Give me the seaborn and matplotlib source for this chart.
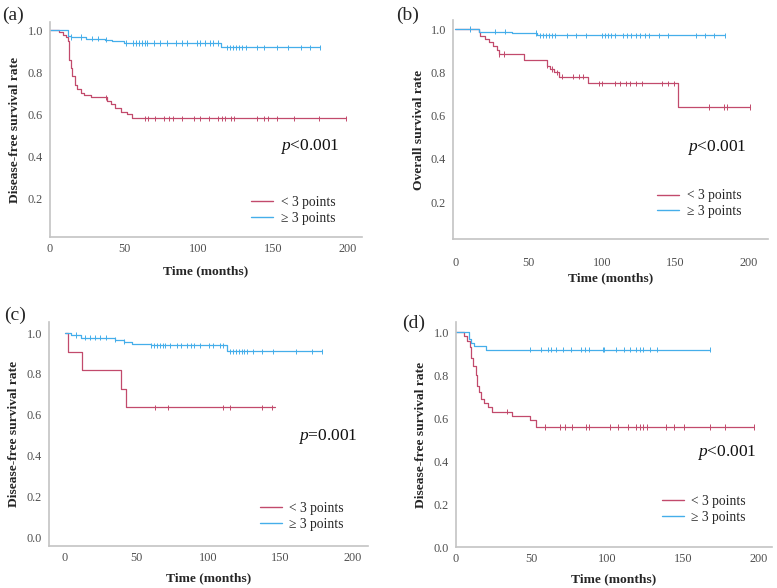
import numpy as np
import pandas as pd
import matplotlib
matplotlib.use("Agg")
import matplotlib.pyplot as plt
import seaborn as sns

sns.set_style("white")
plt.rcParams["font.family"] = ["Liberation Serif", "DejaVu Serif"]
plt.rcParams["mathtext.fontset"] = "custom"
plt.rcParams["mathtext.it"] = "Liberation Serif:italic"
plt.rcParams["mathtext.rm"] = "Liberation Serif"

GROUPS = ["< 3 points", "≥ 3 points"]
COLORS = ["#C24A6C", "#45AEEA"]

# ---------------- panel (a) : disease-free survival ----------------
a_low_t = [0, 6, 9, 11, 12, 13, 14, 15, 16.5, 18.5, 21, 23, 27.5, 38.5, 41, 44, 47.5, 52, 55.5]
a_low_s = [1.0, 0.99, 0.98, 0.97, 0.95, 0.86, 0.82, 0.78, 0.74, 0.72, 0.70, 0.69, 0.68, 0.665, 0.65, 0.63, 0.61, 0.60, 0.58]
a_low_end = 199
a_low_cens = [37.6, 64, 66, 71, 77, 80, 83, 89, 97, 101, 107, 113, 116, 118, 122, 124, 139, 144, 147, 153, 164, 181, 199]
a_high_t = [0, 12, 14, 24, 37, 42, 50, 115]
a_high_s = [1.0, 0.975, 0.968, 0.96, 0.955, 0.948, 0.94, 0.92]
a_high_end = 182
a_high_cens = [14, 21, 28, 32, 38, 51, 56, 58, 60, 62, 64, 65, 70, 74, 79, 85, 89, 92, 99, 101, 104, 108, 110, 113,
               119, 121, 123, 125, 127, 129, 132, 139, 144, 153, 160, 169, 175, 182]
a_p = "<0.001"
a_ylabel = "Disease-free survival rate"

# ---------------- panel (b) : overall survival ----------------
b_low_t = [0, 16, 17, 20.5, 22.7, 26, 28.4, 29.5, 46.6, 62.5, 64.8, 67, 70.5, 90.5, 152]
b_low_s = [1.0, 0.985, 0.97, 0.955, 0.94, 0.92, 0.905, 0.885, 0.858, 0.83, 0.815, 0.80, 0.78, 0.75, 0.64]
b_low_end = 201
b_low_cens = [30, 33, 62.5, 66, 69, 73, 80, 84, 87, 98, 100, 109, 112, 116, 119, 123, 127, 141, 145, 149, 173, 183, 185, 201]
b_high_t = [0, 16, 38.6, 55.7]
b_high_s = [1.0, 0.988, 0.982, 0.971]
b_high_end = 184
b_high_cens = [10, 27, 34, 55, 58, 60, 62, 64, 66, 68, 76, 82, 89, 100, 102, 104, 106, 109, 114, 117, 120, 123, 126,
               129, 132, 139, 145, 164, 170, 176, 184]
b_p = "<0.001"
b_ylabel = "Overall survival rate"

# ---------------- panel (c) : disease-free survival ----------------
c_low_t = [0, 2.3, 12.3, 39, 42.5]
c_low_s = [1.0, 0.909, 0.818, 0.727, 0.636]
c_low_end = 146
c_low_cens = [63, 72, 110, 115, 137, 144]
c_high_t = [0, 4.6, 11.6, 35, 41, 46.5, 60, 113]
c_high_s = [1.0, 0.99, 0.977, 0.967, 0.957, 0.947, 0.94, 0.91]
c_high_end = 179
c_high_cens = [8, 14, 17.5, 21, 24.4, 29, 35, 41, 60, 62, 64, 66, 68, 70, 73, 78, 81, 85, 88, 90, 94, 100, 103, 108,
               110, 115, 117, 119, 121, 123, 125, 127, 131, 137, 145, 161, 172, 179]
c_p = "=0.001"
c_ylabel = "Disease-free survival rate"

# ---------------- panel (d) : disease-free survival ----------------
d_low_t = [0, 5.5, 7, 9, 10, 11, 13, 13.7, 15, 16.6, 18.8, 21, 24, 37, 48.7, 52.6]
d_low_s = [1.0, 0.98, 0.96, 0.93, 0.88, 0.84, 0.80, 0.75, 0.72, 0.69, 0.67, 0.65, 0.63, 0.61, 0.59, 0.558]
d_low_end = 197
d_low_cens = [34, 58.6, 68.6, 72, 77, 86, 88, 102, 107, 114, 119, 122, 124, 126, 139, 144, 151, 168, 178, 197]
d_high_t = [0, 8.4, 10, 12, 20]
d_high_s = [1.0, 0.97, 0.95, 0.935, 0.918]
d_high_end = 168
d_high_cens = [49, 56, 61, 63, 66, 71, 76, 83, 85, 88, 97, 98, 106, 111, 115, 119, 122, 124, 128, 133, 168]
d_p = "<0.001"
d_ylabel = "Disease-free survival rate"

xticks = [0, 50, 100, 150, 200]
xlabel = "Time (months)"


def step_frame(t, s, end, group):
    tt = list(t) + [end]
    ss = list(s) + [s[-1]]
    return pd.DataFrame({"time": tt, "surv": ss, "group": group})


def cens_frame(t, s, cens, group):
    idx = np.searchsorted(np.asarray(t), np.asarray(cens), side="right") - 1
    return pd.DataFrame({"time": cens, "surv": np.asarray(s)[idx], "group": group})


fig = plt.figure(figsize=(7.77, 5.88), dpi=100)
W, H = 777, 588


def px_axes(left, right, top, bottom):
    return fig.add_axes([left / W, 1 - bottom / H, (right - left) / W, (bottom - top) / H])


panels = [
    dict(rect=(50, 362, 22, 237), xlim=(0, 210), ylim=(0.014, 1.04), yticks=[0.2, 0.4, 0.6, 0.8, 1.0],
         low=(a_low_t, a_low_s, a_low_end, a_low_cens), high=(a_high_t, a_high_s, a_high_end, a_high_cens),
         p=a_p, ylabel=a_ylabel, letter="(a)", lpos=(13, 15), leg=(0.645, 0.19), ppos=(0.737, 0.419),
         xpad=4, ylpad=5, xlpad=8),
    dict(rect=(453, 768, 20, 239), xlim=(-1.5, 213), ylim=(0.029, 1.042), yticks=[0.2, 0.4, 0.6, 0.8, 1.0],
         low=(b_low_t, b_low_s, b_low_end, b_low_cens), high=(b_high_t, b_high_s, b_high_end, b_high_cens),
         p=b_p, ylabel=b_ylabel, letter="(b)", lpos=(408, 15), leg=(0.649, 0.227), ppos=(0.743, 0.416),
         xpad=13, ylpad=4, xlpad=2),
    dict(rect=(49, 368, 322, 546), xlim=(-11, 211), ylim=(-0.044, 1.054), yticks=[0.0, 0.2, 0.4, 0.6, 0.8, 1.0],
         low=(c_low_t, c_low_s, c_low_end, c_low_cens), high=(c_high_t, c_high_s, c_high_end, c_high_cens),
         p=c_p, ylabel=c_ylabel, letter="(c)", lpos=(15, 315), leg=(0.661, 0.197), ppos=(0.78, 0.487),
         xpad=4, ylpad=5, xlpad=6),
    dict(rect=(456, 772, 322, 547), xlim=(0, 209), ylim=(0, 1.047), yticks=[0.0, 0.2, 0.4, 0.6, 0.8, 1.0],
         low=(d_low_t, d_low_s, d_low_end, d_low_cens), high=(d_high_t, d_high_s, d_high_end, d_high_cens),
         p=d_p, ylabel=d_ylabel, letter="(d)", lpos=(414, 323), leg=(0.652, 0.232), ppos=(0.763, 0.422),
         xpad=4, ylpad=5, xlpad=6),
]

for P in panels:
    ax = px_axes(*P["rect"])
    lt, ls, le, lc = P["low"]
    ht, hs, he, hc = P["high"]
    lines = pd.concat([step_frame(lt, ls, le, GROUPS[0]), step_frame(ht, hs, he, GROUPS[1])], ignore_index=True)
    cens = pd.concat([cens_frame(lt, ls, lc, GROUPS[0]), cens_frame(ht, hs, hc, GROUPS[1])], ignore_index=True)

    sns.lineplot(data=lines, x="time", y="surv", hue="group", hue_order=GROUPS, palette=COLORS,
                 estimator=None, sort=False, drawstyle="steps-post", linewidth=0.9, ax=ax)
    sns.scatterplot(data=cens, x="time", y="surv", hue="group", hue_order=GROUPS, palette=COLORS,
                    marker="|", s=14, linewidth=0.7, legend=False, ax=ax)

    ax.set_xlim(*P["xlim"])
    ax.set_ylim(*P["ylim"])
    ax.set_xticks(xticks)
    ax.set_yticks(P["yticks"])
    ax.set_yticklabels([f"{v:.1f}" for v in P["yticks"]])
    ax.tick_params(axis="both", length=0, labelsize=8.8, labelcolor="#505050")
    ax.tick_params(axis="x", pad=P["xpad"])
    ax.tick_params(axis="y", pad=5)
    for side in ["top", "right"]:
        ax.spines[side].set_visible(False)
    for side in ["left", "bottom"]:
        ax.spines[side].set_color("#C4C4C4")
        ax.spines[side].set_linewidth(1.2)
    ax.set_xlabel(xlabel, fontsize=9.7, fontweight="bold", labelpad=P["xlpad"])
    ax.set_ylabel(P["ylabel"], fontsize=9.7, fontweight="bold", labelpad=P["ylpad"])

    leg = ax.legend(loc="upper left", bbox_to_anchor=P["leg"], frameon=False, fontsize=9.8,
                    handlelength=1.6, handletextpad=0.55, labelspacing=0.2, borderpad=0, borderaxespad=0)
    for h in leg.get_lines():
        h.set_linewidth(1.0)

    ax.text(P["ppos"][0], P["ppos"][1], r"$\it{p}$" + P["p"], transform=ax.transAxes,
            fontsize=12.5, va="center", ha="left", color="#111111")
    fig.text(P["lpos"][0] / W, 1 - P["lpos"][1] / H, P["letter"], fontsize=14, ha="center", va="center")

fig.savefig("out.png", dpi=100, facecolor="white")
